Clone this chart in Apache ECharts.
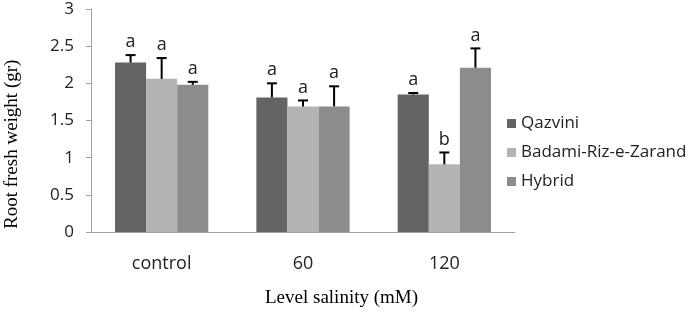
<!DOCTYPE html>
<html>
<head>
<meta charset="utf-8">
<script src="https://cdn.jsdelivr.net/npm/echarts@6/dist/echarts.min.js"></script>
<style>
  html, body { margin: 0; padding: 0; background: #fff; }
  #chart { width: 694px; height: 315px; }
</style>
</head>
<body>
<div id="chart"></div>
<script>
const categories = ['control', '60', '120'];
const seriesNames = ['Qazvini', 'Badami-Riz-e-Zarand', 'Hybrid'];
const qazvini = [2.28, 1.81, 1.85];
const badami = [2.06, 1.69, 0.91];
const hybrid = [1.98, 1.69, 2.21];
// upper end of error bars
const qazviniErr = [2.38, 2.0, 1.87];
const badamiErr = [2.34, 1.77, 1.07];
const hybridErr = [2.02, 1.96, 2.47];
// significance letters
const qazviniLetters = ['a', 'a', 'a'];
const badamiLetters = ['a', 'a', 'b'];
const hybridLetters = ['a', 'a', 'a'];

const colors = ['#646464', '#b4b4b4', '#8c8c8c'];
const values = [qazvini, badami, hybrid];
const errs = [qazviniErr, badamiErr, hybridErr];
const letters = [qazviniLetters, badamiLetters, hybridLetters];
const catGap = 0.34;

const chart = echarts.init(document.getElementById('chart'));

function errorSeries(idx) {
  return {
    type: 'custom',
    name: seriesNames[idx] + ' err',
    data: categories.map((c, i) => [i, values[idx][i], errs[idx][i]]),
    z: 5,
    renderItem: function (params, api) {
      const catW = api.size([1, 0])[0];
      const barW = catW * (1 - catGap) / 3;
      const base = api.coord([api.value(0), api.value(1)]);
      const top = api.coord([api.value(0), api.value(2)]);
      const x = base[0] + (idx - 1) * barW;
      return {
        type: 'group',
        children: [
          { type: 'line', shape: { x1: x, y1: base[1], x2: x, y2: top[1] }, style: { stroke: '#000', lineWidth: 2 } },
          { type: 'line', shape: { x1: x - 5, y1: top[1], x2: x + 5, y2: top[1] }, style: { stroke: '#000', lineWidth: 2 } },
          { type: 'text', style: { text: letters[idx][params.dataIndex], x: x, y: top[1] - 4, textAlign: 'center', textVerticalAlign: 'bottom', font: '18px "Open Sans"', fill: '#222' } }
        ]
      };
    }
  };
}

const option = {
  animation: false,
  grid: { left: 91, right: 179, top: 9, bottom: 83 },
  legend: {
    orient: 'vertical',
    left: 502,
    top: 110,
    itemWidth: 9,
    itemHeight: 9,
    itemGap: 12,
    icon: 'rect',
    data: seriesNames,
    textStyle: { fontFamily: 'Open Sans', fontSize: 17, color: '#222' }
  },
  xAxis: {
    type: 'category',
    data: categories,
    axisLine: { lineStyle: { color: '#a0a0a0' } },
    axisTick: { length: 6, lineStyle: { color: '#a0a0a0' } },
    axisLabel: { margin: 23, fontFamily: 'Open Sans', fontSize: 18, color: '#222' }
  },
  yAxis: {
    type: 'value',
    min: 0,
    max: 3,
    interval: 0.5,
    splitLine: { show: false },
    axisLine: { show: true, lineStyle: { color: '#a0a0a0' } },
    axisTick: { show: true, length: 5, lineStyle: { color: '#a0a0a0' } },
    axisLabel: { margin: 17, fontFamily: 'Open Sans', fontSize: 17, color: '#222' }
  },
  graphic: [
    { type: 'text', left: 265, top: 289, style: { text: 'Level salinity (mM)', font: '19px "Liberation Serif"', fill: '#000' } },
    { type: 'text', x: 3, y: 229, rotation: Math.PI / 2, style: { text: 'Root fresh weight (gr)', font: '19px "Liberation Serif"', fill: '#000' } }
  ],
  series: [0, 1, 2].map(idx => ({
    type: 'bar',
    name: seriesNames[idx],
    data: values[idx],
    barGap: '0%',
    barCategoryGap: (catGap * 100) + '%',
    itemStyle: { color: colors[idx] }
  })).concat([0, 1, 2].map(errorSeries))
};

chart.setOption(option);
</script>
</body>
</html>
